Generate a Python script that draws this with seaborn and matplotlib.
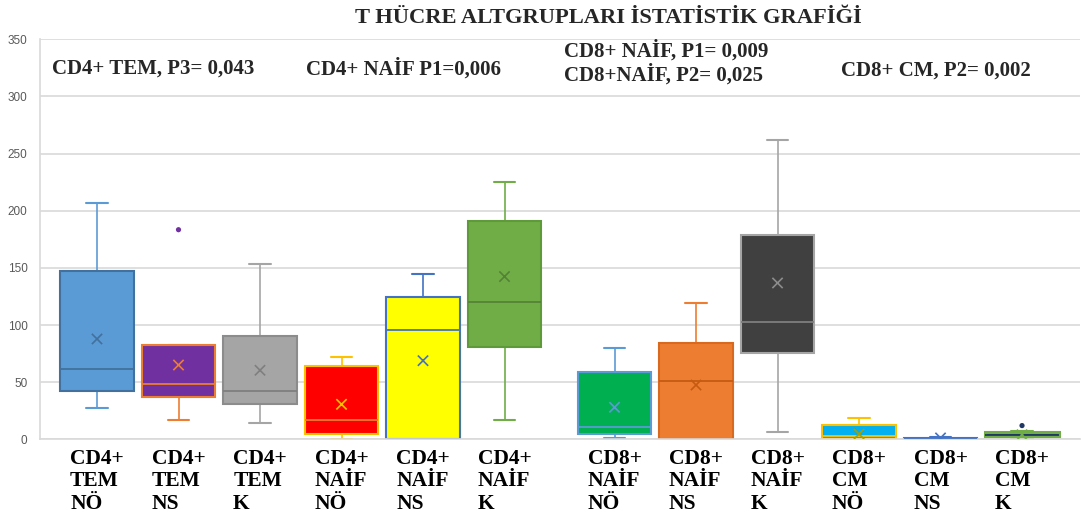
import matplotlib
matplotlib.use("Agg")
import matplotlib.pyplot as plt
import seaborn as sns
import numpy as np
import pandas as pd

# ---------------- data ----------------
categories = ["CD4+\nTEM\nNÖ", "CD4+\nTEM\nNS", "CD4+\nTEM\nK",
              "CD4+\nNAİF\nNÖ", "CD4+\nNAİF\nNS", "CD4+\nNAİF\nK",
              "CD8+\nNAİF\nNÖ", "CD8+\nNAİF\nNS", "CD8+\nNAİF\nK",
              "CD8+\nCM\nNÖ", "CD8+\nCM\nNS", "CD8+\nCM\nK"]
whisker_low = [27.7, 16.9, 14.5, 0.0, 0.0, 16.6, 1.4, 0.0, 6.1, 0.0, 0.0, 1.0]
q1 = [42.5, 37.0, 30.6, 4.4, 0.5, 80.5, 4.4, 0.0, 75.8, 0.3, 0.2, 2.5]
median = [61.5, 48.4, 42.0, 16.6, 95.4, 119.9, 11.0, 51.0, 103.0, 3.0, 0.5, 4.0]
q3 = [147.5, 82.3, 90.7, 64.1, 124.5, 191.0, 58.6, 84.3, 178.8, 12.5, 1.0, 6.0]
whisker_high = [207.0, 82.3, 153.4, 71.7, 144.4, 225.2, 80.2, 119.0, 261.6, 18.4, 2.0, 7.5]
means = [87.8, 65.0, 60.4, 30.6, 68.8, 142.4, 28.0, 47.5, 136.8, 4.6, 1.2, 4.0]
outlier_box = [1, 11]
outlier_val = [183.4, 12.0]

title = "T HÜCRE ALTGRUPLARI İSTATİSTİK GRAFİĞİ"
annotations = ["CD4+ TEM, P3= 0,043", "CD4+ NAİF P1=0,006",
               "CD8+ NAİF, P1= 0,009", "CD8+NAİF, P2= 0,025",
               "CD8+ CM, P2= 0,002"]
yticks = [0, 50, 100, 150, 200, 250, 300, 350]

# ---------------- styles ----------------
fill_colors = ["#5B9BD5", "#7030A0", "#A5A5A5", "#FF0000", "#FFFF00", "#70AD47",
               "#00B050", "#ED7D31", "#404040", "#00B0F0", "#4472C4", "#1F3864"]
edge_colors = ["#41719C", "#ED7D31", "#8C8C8C", "#FFC000", "#4472C4", "#5E9A3A",
               "#5B9BD5", "#D9691F", "#A5A5A5", "#FFC000", "#4472C4", "#70AD47"]
whisk_colors = ["#5B9BD5", "#ED7D31", "#A5A5A5", "#FFC000", "#4472C4", "#70AD47",
                "#5B9BD5", "#ED7D31", "#A5A5A5", "#FFC000", "#4472C4", "#70AD47"]
median_colors = ["#41719C", "#ED7D31", "#7F7F7F", "#ED7D31", "#4472C4", "#548235",
                 "#5B9BD5", "#C55A11", "#7F7F7F", "#FFC000", "#4472C4", "#1F3864"]
mean_colors = ["#41719C", "#ED7D31", "#7F7F7F", "#FFC000", "#4472C4", "#548235",
               "#5B9BD5", "#C55A11", "#8C8C8C", "#A5A000", "#4472C4", "#70AD47"]
outlier_colors = ["#7030A0", "#1F3864"]

sns.set_theme(style="white")
plt.rcParams["font.family"] = ["DejaVu Sans"]

W, H = 1081, 522
fig = plt.figure(figsize=(W / 100, H / 100), dpi=100)
ax = fig.add_axes([40 / W, (H - 439.3) / H, 1040 / W, 400 / H])

# layout: category slots, with a small gap between CD4+ and CD8+ groups
positions = [i + (0.35 if i >= 6 else 0.0) for i in range(len(categories))]

stats = []
for i in range(len(categories)):
    stats.append(dict(med=median[i], q1=q1[i], q3=q3[i],
                      whislo=whisker_low[i], whishi=whisker_high[i],
                      fliers=[], mean=means[i], label=categories[i]))

res = ax.bxp(stats, positions=positions, widths=0.9, capwidths=0.26,
             patch_artist=True, showmeans=False, showfliers=False,
             manage_ticks=False)
for i in range(len(categories)):
    b = res["boxes"][i]
    b.set_facecolor(fill_colors[i])
    b.set_edgecolor(edge_colors[i])
    b.set_linewidth(1.5 if i != 11 else 2.2)
    b.set_zorder(2)
    res["medians"][i].set_color(median_colors[i])
    res["medians"][i].set_linewidth(1.3)
    res["medians"][i].set_zorder(3)
    for w in res["whiskers"][2 * i:2 * i + 2]:
        w.set_color(whisk_colors[i]); w.set_linewidth(1.2); w.set_zorder(1.5)
    for c in res["caps"][2 * i:2 * i + 2]:
        c.set_color(whisk_colors[i]); c.set_linewidth(1.5); c.set_zorder(1.5)

mean_df = pd.DataFrame({"pos": positions, "mean": means, "cat": categories})
sns.scatterplot(data=mean_df, x="pos", y="mean", hue="cat", palette=mean_colors,
                marker="x", s=55, linewidth=1.2, legend=False, ax=ax, zorder=5)

out_df = pd.DataFrame({"pos": [positions[k] for k in outlier_box],
                       "val": outlier_val, "c": ["a", "b"]})
sns.scatterplot(data=out_df, x="pos", y="val", hue="c", palette=outlier_colors,
                s=14, edgecolor="none", legend=False, ax=ax, zorder=5)

# axes
ax.set_xlim(-57 / 81.5, -57 / 81.5 + 1040 / 81.5)
ax.set_ylim(0, 350)
ax.set_yticks(yticks)
ax.yaxis.grid(True, color="#D9D9D9", linewidth=1.2)
ax.set_axisbelow(True)
for s in ["top", "right"]:
    ax.spines[s].set_visible(False)
ax.spines["left"].set_color("#D9D9D9")
ax.spines["bottom"].set_color("#D9D9D9")
ax.spines["left"].set_linewidth(1.2)
ax.spines["bottom"].set_linewidth(1.2)
ax.tick_params(axis="y", length=0, pad=9, labelsize=8.5, labelcolor="#595959")
for t in ax.get_yticklabels():
    t.set_fontfamily(["Liberation Sans", "DejaVu Sans"])
ax.set_xticks(positions)
ax.set_xticklabels(categories, fontfamily=["Liberation Serif", "DejaVu Serif"],
                   fontweight="bold", fontsize=15.5, linespacing=1.15,
                   multialignment="left", color="black")
ax.tick_params(axis="x", length=0, pad=7)
ax.set_xlabel("")
ax.set_ylabel("")

serif = ["Liberation Serif", "DejaVu Serif"]
fig.text(608 / W, 1 - 18 / H, title, ha="center", va="center",
         fontfamily=serif, fontweight="bold", fontsize=16.2)
ann_xy = [(52, 69), (306, 69), (564, 51), (564, 75), (841, 71)]
for txt, (px, py) in zip(annotations, ann_xy):
    fig.text(px / W, 1 - py / H, txt, ha="left", va="center",
             fontfamily=serif, fontweight="bold", fontsize=15)

fig.savefig("out.png", dpi=100, facecolor="white")
